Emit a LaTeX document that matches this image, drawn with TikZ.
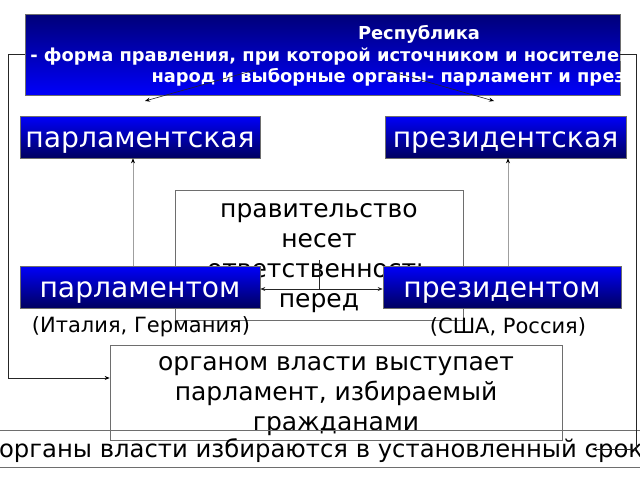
\documentclass[tikz,border=0pt]{standalone}
\usepackage{fontspec}
\setmainfont{DejaVu Sans}
\usetikzlibrary{arrows.meta}
\definecolor{navyA}{RGB}{0,0,120}
\definecolor{blueA}{RGB}{0,0,250}
\definecolor{frameA}{RGB}{110,110,110}
\begin{document}
\begin{tikzpicture}[x=1pt,y=-1pt,
  topbox/.style={draw=frameA, line width=0.7pt, top color=navyA, bottom color=blueA,
    minimum width=595pt, minimum height=81pt, inner sep=0pt},
  toptext/.style={text=white, align=center, font=\bfseries\fontsize{17.85}{21.5}\selectfont, inner sep=0pt},
  bluebox/.style={draw=frameA, line width=0.6pt, top color=blueA, bottom color=navyA!80!black,
    text=white, font=\fontsize{28.2}{30}\selectfont, minimum height=42pt, inner sep=0pt,
    text height=20.5pt, text depth=0pt},
  whitebox/.style={draw=frameA, line width=0.7pt, inner sep=0pt},
  boxtext/.style={align=center, inner sep=0pt, font=\fontsize{25}{30}\selectfont},
  note/.style={font=\fontsize{21}{24}\selectfont, inner sep=0pt},
  thin/.style={draw=gray!75, line width=0.6pt},
  conn/.style={draw=black!85, line width=0.6pt},
  tip/.style={-{Stealth[length=5pt,width=4pt,black]}},
]
\useasboundingbox (0,0) rectangle (640,480);
\clip (0,0) rectangle (640,480);
\fill[white] (0,0) rectangle (640,480);

% top box
\node[topbox] (top) at (322.5,54.5) {};
\begin{scope}
  \clip (top.south west) rectangle (top.north east);
  \node[toptext] (toptxt) at (419,56) {Республика\\- форма правления, при которой источником и носителем власти является\\народ и выборные органы- парламент и президент};
\end{scope}

% arrows from top box
\coordinate (s1) at (255,70);
\coordinate (e1) at (145,101);
\coordinate (s2) at (386,70);
\coordinate (e2) at (494,101);
\draw[conn,tip] (s1) -- (e1);
\draw[conn,tip] (s2) -- (e2);

% second row
\node[bluebox, minimum width=240pt] (ps) at (140,137) {парламентская};
\node[bluebox, minimum width=241pt] (pz) at (505.5,137) {президентская};

% middle box
\node[whitebox, fill=white, minimum width=288pt, minimum height=130pt] (gov) at (319,255) {};
\node[boxtext] (govtxt) at (319,258.5) {правительство\\несет\\ответственность\\перед};

% third row
\node[bluebox, minimum width=240pt] (pm) at (140,287) {парламентом};
\node[bluebox, minimum width=238pt] (pt) at (502,287) {президентом};

% vertical arrows
\draw[thin,tip] ([xshift=-7pt]pm.north) -- ([xshift=-7pt]ps.south);
\draw[thin,tip] ([xshift=6pt]pt.north) -- ([xshift=2.5pt]pz.south);

% double arrow and tick
\draw[conn,{Stealth[length=5pt,width=4pt]}-{Stealth[length=5pt,width=4pt]}] ([yshift=-2pt]pm.east) -- ([yshift=-2pt]pt.west) coordinate[pos=0.5] (mid);
\coordinate (tk) at (319,260);
\draw[conn] (tk) -- (tk |- mid);

% countries
\node[note] (it) at (141,327) {(Италия, Германия)};
\node[note] (us) at (508,327) {(США, Россия)};

% lower boxes
\node[whitebox, minimum width=452pt, minimum height=95pt] (org) at (336,392.5) {};
\node[boxtext] (orgtxt) at (336,396) {органом власти выступает\\парламент, избираемый\\гражданами};
\node[whitebox, minimum width=660pt, minimum height=37pt] (bot) at (318,448.5) {};
\node[boxtext, font=\fontsize{24.3}{28}\selectfont] (bottxt) at (321,451) {органы власти избираются в установленный срок};

% loops
\draw[conn,tip] (top.west) -- ++(-16,0) |- ([yshift=14.5pt]org.west);
\coordinate (rb) at (592,449);
\draw[conn,tip] (top.east) -- ++(16,0) |- (rb);
\end{tikzpicture}
\end{document}
